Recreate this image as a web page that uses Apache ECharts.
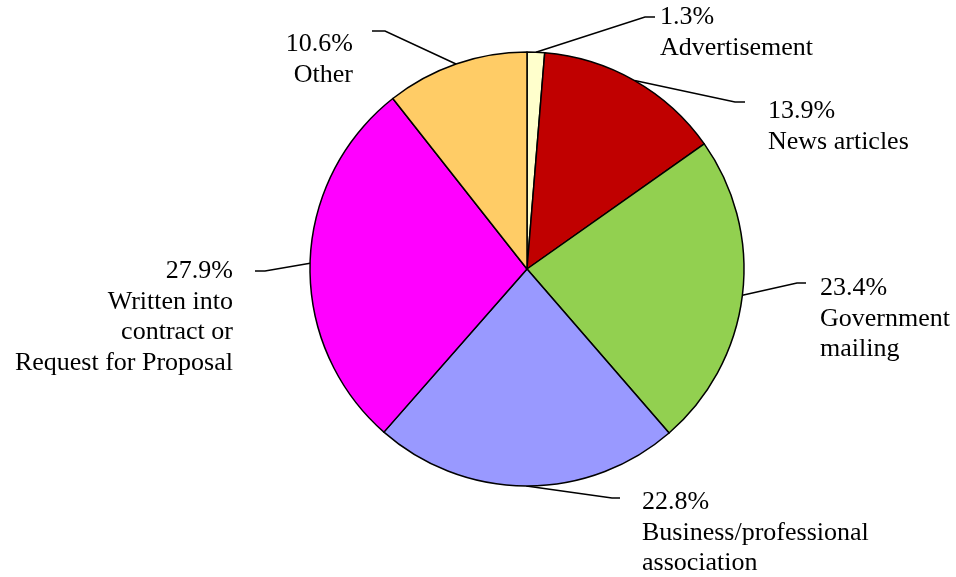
<!DOCTYPE html>
<html>
<head>
<meta charset="utf-8">
<script src="https://cdn.jsdelivr.net/npm/echarts@6/dist/echarts.min.js"></script>
<style>
  html, body { margin: 0; padding: 0; background: #fff; }
  #chart { width: 956px; height: 577px; }
</style>
</head>
<body>
<div id="chart"></div>
<script>
// Slices, clockwise from 12 o'clock
const categories = ['Advertisement', 'News articles', 'Government mailing',
  'Business/professional association', 'Written into contract or Request for Proposal', 'Other'];
const labelText = ['Advertisement', 'News articles', 'Government\nmailing',
  'Business/professional\nassociation', 'Written into\ncontract or\nRequest for Proposal', 'Other'];
const values = [1.3, 13.9, 23.4, 22.8, 27.9, 10.6];
const colors = ['#FFFFCC', '#C00000', '#92D050', '#9999FF', '#FF00FF', '#FFCC66'];

// Where each label block sits and where its leader line bends (pixels)
const labelPlacement = [
  { x: 660, y: 2,   align: 'left',  bend: [645, 17],  end: [655, 17] },
  { x: 768, y: 96,  align: 'left',  bend: [735, 102], end: [745, 102] },
  { x: 820, y: 273, align: 'left',  bend: [797, 283], end: [806, 283] },
  { x: 642, y: 487, align: 'left',  bend: [612, 498], end: [620, 498] },
  { x: 233, y: 256, align: 'right', bend: [265, 271], end: [255, 271] },
  { x: 353, y: 29,  align: 'right', bend: [385, 31],  end: [372, 31] }
];

const CX = 527, CY = 269, R = 217;
const total = values.reduce((a, b) => a + b, 0);

function edgePoint(i) {
  let before = 0;
  for (let k = 0; k < i; k++) before += values[k];
  const mid = (before + values[i] / 2) / total * 2 * Math.PI;
  return [CX + R * Math.sin(mid), CY - R * Math.cos(mid)];
}

const chart = echarts.init(document.getElementById('chart'), null, { renderer: 'canvas' });
chart.setOption({
  animation: false,
  backgroundColor: '#ffffff',
  series: [{
    type: 'pie',
    center: [CX, CY],
    radius: R,
    startAngle: 90,
    clockwise: true,
    avoidLabelOverlap: false,
    data: categories.map((name, i) => ({
      name: name,
      value: values[i],
      itemStyle: { color: colors[i] }
    })),
    itemStyle: { borderColor: '#000000', borderWidth: 1.5 },
    emphasis: { disabled: true },
    label: {
      show: true,
      position: 'outside',
      fontFamily: 'Liberation Serif',
      fontSize: 26,
      lineHeight: 30.5,
      color: '#000000',
      formatter: p => values[p.dataIndex].toFixed(1) + '%\n' + labelText[p.dataIndex]
    },
    labelLine: {
      show: true,
      lineStyle: { color: '#000000', width: 1.5 }
    },
    labelLayout: function (params) {
      const i = params.dataIndex;
      const lp = labelPlacement[i];
      const start = (params.labelLinePoints && params.labelLinePoints[0]) || edgePoint(i);
      return {
        x: lp.x,
        y: lp.y,
        align: lp.align,
        verticalAlign: 'top',
        labelLinePoints: [start, lp.bend, lp.end]
      };
    }
  }]
});
</script>
</body>
</html>
